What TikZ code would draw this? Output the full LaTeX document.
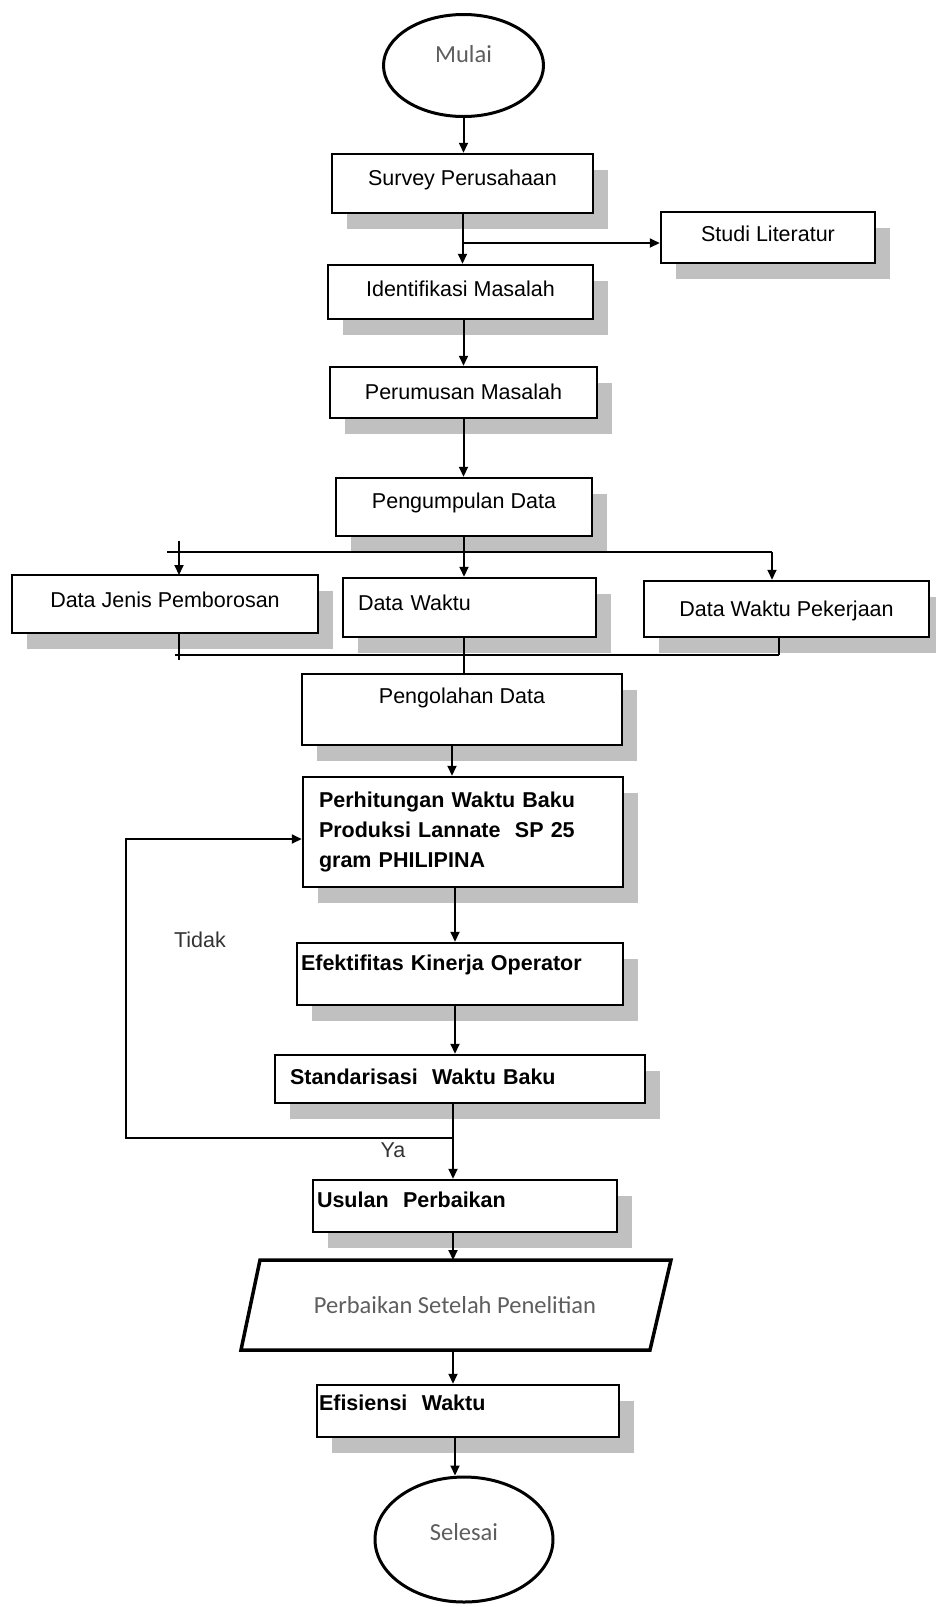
\documentclass[tikz,border=0pt]{standalone}
\usepackage{fontspec}
\setmainfont{Liberation Sans}
\newfontfamily\calib{Carlito}
\usetikzlibrary{arrows.meta,shapes.geometric}
\definecolor{shadowgray}{HTML}{C0C0C0}
\definecolor{softtext}{HTML}{5E5E5E}

\begin{document}
\begin{tikzpicture}[
    x=1pt, y=-1pt,
    every node/.style={font=\fontsize{21.5}{30}\selectfont},
    procnode/.style={rectangle, draw=black, line width=2.5pt, fill=white, inner sep=0pt,
      preaction={fill=shadowgray, transform canvas={xshift=15pt, yshift=-16pt}}},
    lift/.style={text height=15pt, text depth=#1},
    termnode/.style={ellipse, draw=black, line width=3pt, fill=white, inner sep=0pt,
      text=softtext, font=\calib\fontsize{24.5}{30}\selectfont},
    flow/.style={line width=2pt, -{Triangle[length=10pt,width=9pt]}},
    link/.style={line width=2pt}
  ]
  \useasboundingbox (0,0) rectangle (935,1607);

  %Nodes
  \node[termnode, minimum width=160pt, minimum height=102pt, text height=15.5pt, text depth=21pt] at (463.5,65.5) (mulai) {Mulai};
  \node[procnode, lift=11pt, minimum width=261pt, minimum height=59pt] at (462.5,183.5) (survey) {Survey Perusahaan};
  \node[procnode, lift=7pt, minimum width=214pt, minimum height=51pt] at (768,237.5) (studi) {Studi Literatur};
  \node[procnode, lift=6pt, minimum width=265pt, minimum height=54pt] at (460.5,292) (identifikasi) {Identifikasi Masalah};
  \node[procnode, lift=1pt, minimum width=267pt, minimum height=51pt] at (463.5,392.5) (perumusan) {Perumusan Masalah};
  \node[procnode, lift=12pt, minimum width=256pt, minimum height=58pt] at (464,507) (pengumpulan) {Pengumpulan Data};
  \node[procnode, lift=8pt, minimum width=306pt, minimum height=58pt] at (165,604) (jenis) {Data Jenis Pemborosan};
  \node[procnode, lift=9pt, minimum width=253pt, minimum height=59pt, text width=223pt, inner xsep=15pt, align=left] at (469.5,607.5) (waktu) {Data Waktu};
  \node[procnode, lift=0pt, minimum width=285pt, minimum height=56pt] at (786.5,609) (pekerjaan) {Data Waktu Pekerjaan};
  \node[procnode, lift=27pt, minimum width=320pt, minimum height=71pt] at (462,709.5) (pengolahan) {Pengolahan Data};
  \node[procnode, minimum width=320pt, minimum height=110pt, text width=288pt, inner xsep=16pt, align=left, font=\bfseries\fontsize{21.5}{30}\selectfont] at (463,832) (perhitungan) {Perhitungan Waktu Baku\\Produksi Lannate\ \ SP 25\\gram PHILIPINA};
  \node[procnode, lift=22pt, minimum width=326pt, minimum height=62pt, text width=318pt, inner xsep=4pt, align=left, font=\bfseries\fontsize{21.5}{30}\selectfont] at (460,974) (efektifitas) {Efektifitas Kinerja Operator};
  \node[procnode, lift=4pt, minimum width=370pt, minimum height=48pt, text width=340pt, inner xsep=15pt, align=left, font=\bfseries\fontsize{21.5}{30}\selectfont] at (460,1079) (standar) {Standarisasi\ \ Waktu Baku};
  \node[procnode, lift=12pt, minimum width=304pt, minimum height=52pt, text width=296pt, inner xsep=4pt, align=left, font=\bfseries\fontsize{21.5}{30}\selectfont] at (465,1206) (usulan) {Usulan\ \ Perbaikan};
  \draw[line width=3.5pt, line join=miter] (260,1260) -- (671,1260) -- (650,1350) -- (241,1350) -- cycle;
  \coordinate (revisitop) at (453,1260);
  \coordinate (revisibot) at (453,1350);
  \node[text=softtext, font=\calib\fontsize{24.5}{30}\selectfont] at (455,1305) (revisi) {Perbaikan Setelah Penelitian};
  \node[procnode, lift=16pt, minimum width=302pt, minimum height=52pt, text width=298pt, inner xsep=2pt, align=left, font=\bfseries\fontsize{21.5}{30}\selectfont] at (468,1411) (efisiensi) {Efisiensi\ \ Waktu};
  \node[termnode, minimum width=178pt, minimum height=125pt, text height=15.5pt, text depth=13pt] at (464,1539.5) (selesai) {Selesai};

  %Lines
  \draw[flow] (mulai.south) -- (mulai.south |- survey.north);
  \draw[flow] (survey.south) -- (survey.south |- identifikasi.north);
  \coordinate (split) at (463,243);
  \draw[flow] (split) -- (split -| studi.west);
  \draw[flow] (identifikasi.south -| perumusan.north) -- (perumusan.north);
  \draw[flow] (perumusan.south) -- (perumusan.south |- pengumpulan.north);
  \coordinate (busL) at (167,552);
  \coordinate (busR) at (772,552);
  \draw[link, line width=1.8pt] (busL) -- (busR);
  \draw[flow] (179,541) -- (179,575);
  \draw[flow] (pengumpulan.south) -- (pengumpulan.south |- waktu.north);
  \draw[flow] (busR) -- (busR |- pekerjaan.north);
  \coordinate (joinL) at (175,655);
  \coordinate (joinR) at (779,655);
  \draw[link, line width=1.8pt] (joinL) -- (joinR);
  \draw[link] (179,633) -- (179,660);
  \draw[link] (joinR |- pekerjaan.south) -- (joinR);
  \draw[link] (pengumpulan.south |- waktu.south) -- (pengumpulan.south |- pengolahan.north);
  \draw[flow] ([xshift=-10pt]pengolahan.south) -- ([xshift=-10pt]pengolahan.south |- perhitungan.north);
  \draw[flow] ([xshift=-8pt]perhitungan.south) -- ([xshift=-8pt]perhitungan.south |- efektifitas.north);
  \draw[flow] ([xshift=-5pt]efektifitas.south) -- ([xshift=-5pt]efektifitas.south |- standar.north);
  \coordinate (loop) at (453,1138);
  \draw[link] (loop |- standar.south) -- (loop);
  \draw[flow] (loop) -- (loop |- usulan.north);
  \draw[flow] (loop) -- (126,1138) -- (126,839) -- (perhitungan.west |- 0,839);
  \draw[flow] (revisitop |- usulan.south) -- (revisitop);
  \draw[flow] (revisibot) -- (revisibot |- efisiensi.north);
  \draw[flow] ([xshift=-13pt]efisiensi.south) -- ([xshift=-9pt]selesai.north);

  %Labels
  \node[text=black!80] at (200,940) (tidak) {Tidak};
  \node[text=black!80] at (393,1150) (ya) {Ya};

\end{tikzpicture}
\end{document}
